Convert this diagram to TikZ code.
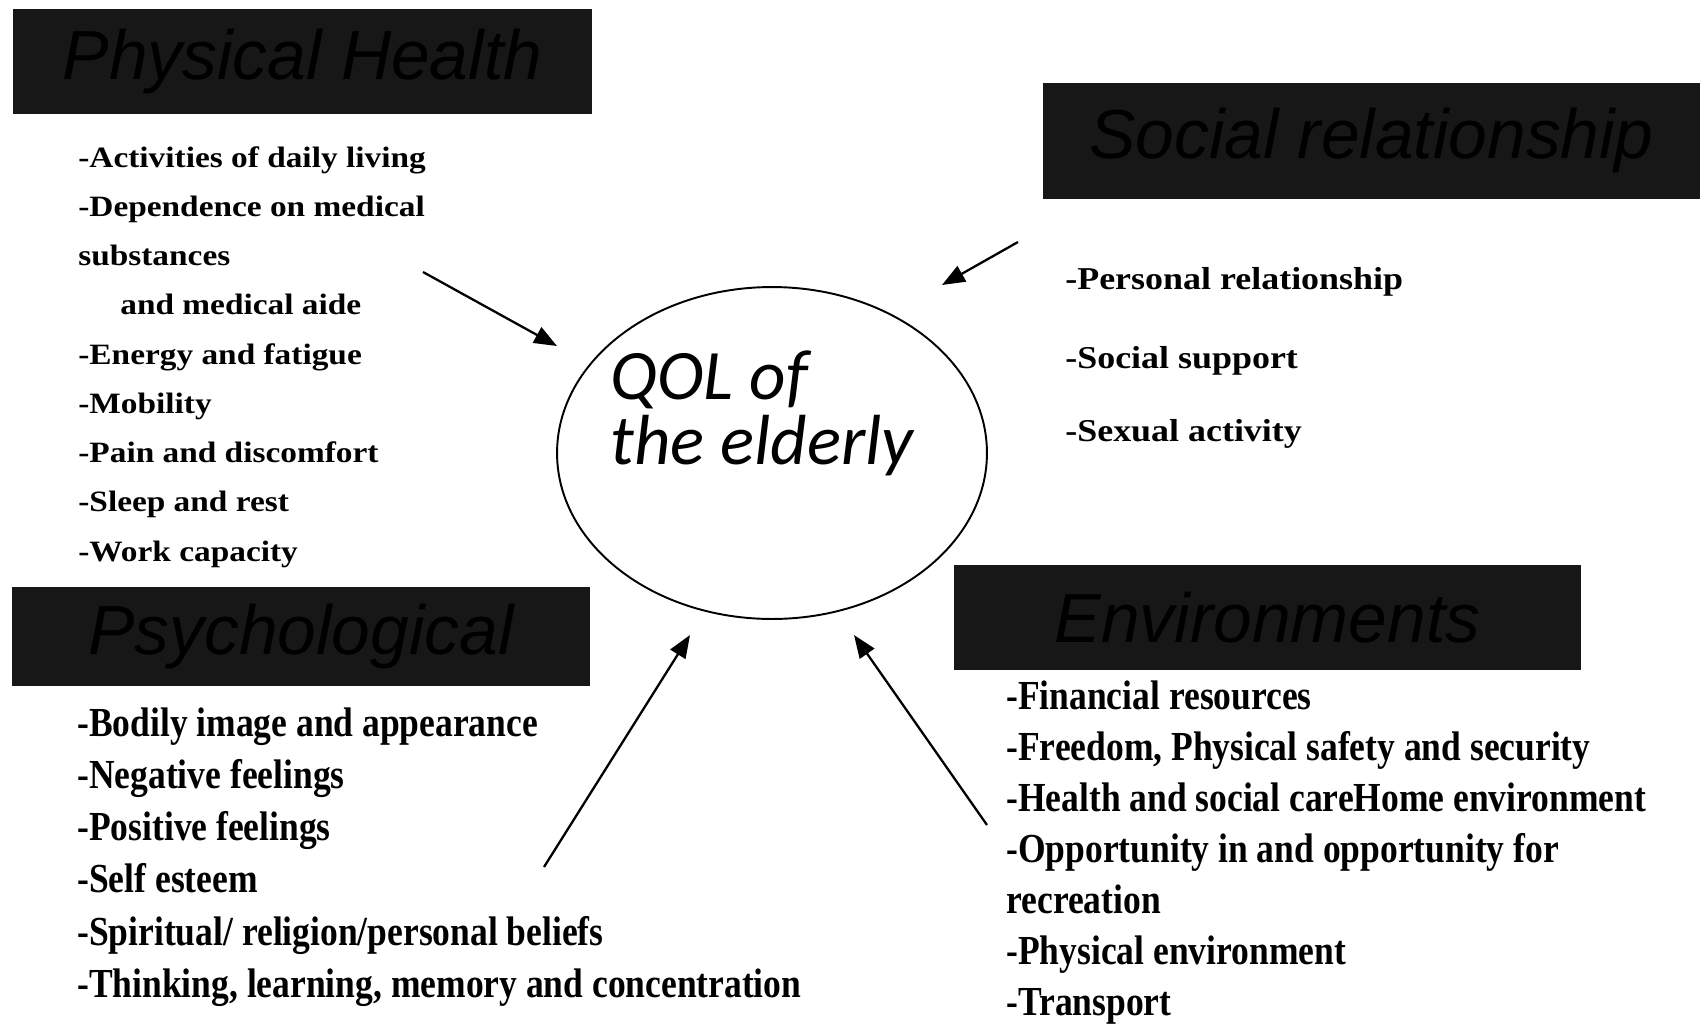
\documentclass[tikz,border=0pt]{standalone}
\usepackage{fontspec}
\setmainfont{Liberation Serif}
\newfontfamily\headfont{Liberation Sans}
\newfontfamily\qolfont{Carlito}
\newfontfamily\wideitem{Liberation Serif}[FakeStretch=1.13]
\newfontfamily\narrowitem{Liberation Serif}[FakeStretch=0.86]
\usepackage{tikz}
\usetikzlibrary{arrows.meta, shapes.geometric, positioning}
\tikzset{
	headnode/.style={
			rectangle,
			fill=black!91,
			text=black,
			inner sep=0pt,
			font=\headfont\itshape\fontsize{39.6}{44}\selectfont
		},
	wideitemnode/.style={
			anchor=base west,
			inner sep=0pt,
			font=\wideitem\bfseries\fontsize{16.8}{20}\selectfont
		},
	socialitemnode/.style={
			wideitemnode,
			font=\wideitem\bfseries\fontsize{18.1}{22}\selectfont
		},
	narrowitemnode/.style={
			anchor=base west,
			inner sep=0pt,
			font=\narrowitem\bfseries\fontsize{23.5}{28}\selectfont
		},
	qolnode/.style={
			ellipse,
			draw=black,
			line width=1.1pt,
			inner sep=0pt,
			minimum width=8.6cm,
			minimum height=6.64cm
		},
	qoltextnode/.style={
			anchor=base west,
			inner sep=0pt,
			font=\qolfont\itshape\fontsize{40.4}{37}\selectfont
		},
	arrowline/.style={
			-{Triangle[length=13pt,width=10pt]},
			line width=1.3pt
		}
}

\begin{document}
\begin{tikzpicture}[x=0.02cm, y=-0.02cm]
				\useasboundingbox (0,0) rectangle (1700,1025);

				\node[qolnode] at (772,453) (qol) {};
				\node[qoltextnode] at (610,399) (qolone) {QOL of};
				\node[qoltextnode] at (610,464) (qoltwo) {the elderly};

				\node[headnode, minimum width=11.58cm, minimum height=2.1cm] at (302.5,61.5) (physical) {Physical Health};
				\node[headnode, minimum width=13.14cm, minimum height=2.32cm] at (1371.5,141) (social) {Social relationship};
				\node[headnode, minimum width=11.56cm, minimum height=1.98cm] at (301,636.5) (psycho) {Psychological};
				\node[headnode, minimum width=12.54cm, minimum height=2.1cm] at (1267.5,617.5) (environ) {Environments};

				\foreach \txt [count=\i from 0] in {-Activities of daily living, -Dependence on medical, substances,
					\hspace*{23.9pt}and medical aide, -Energy and fatigue, -Mobility, -Pain and discomfort,
					-Sleep and rest, -Work capacity}
					\node[wideitemnode] at (78,{167+49.25*\i}) (ph\i) {\txt};

				\node[socialitemnode] at (1065,289) (so0) {-Personal relationship};
				\node[socialitemnode] at (1065,368) (so1) {-Social support};
				\node[socialitemnode] at (1065,441) (so2) {-Sexual activity};

				\foreach \txt [count=\i from 0] in {-Bodily image and appearance, -Negative feelings, -Positive feelings,
					-Self esteem, -Spiritual/ religion/personal beliefs, {-Thinking, learning, memory and concentration}}
					\node[narrowitemnode] at (77,{736+52.3*\i}) (ps\i) {\txt};

				\foreach \txt [count=\i from 0] in {-Financial resources, {-Freedom, Physical safety and security},
					-Health and social careHome environment, -Opportunity in and opportunity for, recreation,
					-Physical environment, -Transport}
					\node[narrowitemnode] at (1006,{709+51*\i}) (en\i) {\txt};

				\coordinate (phtail) at (423,272);
				\coordinate (phtip) at (557,346);
				\coordinate (sotail) at (1018,242);
				\coordinate (sotip) at (942,285);
				\coordinate (pstail) at (544,867);
				\coordinate (pstip) at (690,635);
				\coordinate (entail) at (987,825);
				\coordinate (entip) at (854,635);

				\draw[arrowline] (phtail) -- (phtip);
				\draw[arrowline] (sotail) -- (sotip);
				\draw[arrowline] (pstail) -- (pstip);
				\draw[arrowline] (entail) -- (entip);
			\end{tikzpicture}
\end{document}
